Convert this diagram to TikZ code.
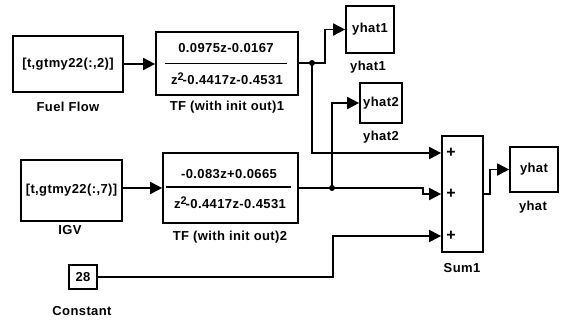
\documentclass[tikz,border=0pt]{standalone}
\usepackage{fontspec}
\setmainfont{Liberation Sans}[LetterSpace=3]
\usetikzlibrary{arrows.meta,calc}
\begin{document}
\begin{tikzpicture}[x=1pt,y=-1pt,
  blk/.style={draw,line width=1.7pt,inner sep=0pt,font=\fontsize{13}{15}\selectfont\bfseries},
  lbl/.style={inner sep=0pt,font=\fontsize{13}{15}\selectfont\bfseries},
  wire/.style={line width=1.8pt},
  arr/.style={wire,-{Triangle[length=12pt,width=12pt]}},
  jdot/.style={circle,fill,inner sep=0pt,minimum size=6pt}]
\useasboundingbox (0,0) rectangle (567,322);
% sources
\node[blk,minimum width=110pt,minimum height=56pt] (ff) at (68,64) {[t,gtmy22(:,2)]};
\node[lbl] (ffl) at (68,107) {Fuel Flow};
\node[blk,minimum width=101pt,minimum height=61pt] (igv) at (71.5,190.5) {[t,gtmy22(:,7)]};
\node[lbl] (igvl) at (70,230) {IGV};
\node[blk,minimum width=28pt,minimum height=24pt] (c) at (83,277) {28};
\node[lbl] (cl) at (82,311) {Constant};
% transfer functions
\node[blk,minimum width=142pt,minimum height=63pt] (tf1) at (227,63.5) {};
\node[lbl] (tf1n) at (226,48) {0.0975z-0.0167};
\node[lbl] (tf1d) at (227,79) {z\raisebox{4pt}{\fontsize{11}{11}\selectfont 2}\kern-1pt-0.4417z-0.4531};
\draw[line width=1.4pt] ([xshift=10pt]tf1.west) -- ([xshift=-12pt]tf1.east);
\node[lbl] (tf1l) at (227,107) {TF (with init out)1};
\node[blk,minimum width=135pt,minimum height=70pt] (tf2) at (230.5,188) {};
\node[lbl] (tf2n) at (229,174) {-0.083z+0.0665};
\node[lbl] (tf2d) at (230,203) {z\raisebox{4pt}{\fontsize{11}{11}\selectfont 2}\kern-1pt-0.4417z-0.4531};
\draw[line width=1.4pt] ([xshift=4pt,yshift=1pt]tf2.west) -- ([xshift=-8pt,yshift=1pt]tf2.east);
\node[lbl] (tf2l) at (230,237) {TF (with init out)2};
% sinks
\node[blk,minimum width=48pt,minimum height=47pt] (yh1) at (370,29.5) {yhat1};
\node[lbl] (yh1l) at (368,67) {yhat1};
\node[blk,minimum width=42pt,minimum height=40pt] (yh2) at (381,103) {yhat2};
\node[lbl] (yh2l) at (381,137) {yhat2};
\node[blk,minimum width=41pt,minimum height=116pt] (sum) at (462.5,194) {};
\node[lbl,font=\fontsize{16}{16}\selectfont\bfseries] (p1) at (451,153) {+};
\node[lbl,font=\fontsize{16}{16}\selectfont\bfseries] (p2) at (451,194) {+};
\node[lbl,font=\fontsize{16}{16}\selectfont\bfseries] (p3) at (451,236) {+};
\node[lbl] (suml) at (462,268) {Sum1};
\node[blk,minimum width=48pt,minimum height=45pt] (yh) at (534,169.5) {yhat};
\node[lbl] (yhl) at (533,207) {yhat};
% coordinates
\coordinate (s1) at ([yshift=41pt]sum.west);
\coordinate (s2) at (sum.west);
\coordinate (s3) at ([yshift=-42pt]sum.west);
\coordinate (j1) at (312,63);
\coordinate (j2) at (332,188);
% wires
\draw[arr] (ff.east) -- (ff.east -| tf1.west);
\draw[arr] (igv.east |- tf2.west) -- (tf2.west);
\draw[wire] (tf1.east |- j1) -- (j1);
\draw[arr] (j1) -- ++(13,0) |- (yh1.west);
\draw[arr] (j1) |- (s1);
\draw[wire] (tf2.east |- j2) -- (j2);
\draw[arr] (j2) -- (423,188) |- (s2);
\draw[arr] (j2) |- (yh2.west);
\draw[arr] (c.east) -- (333,277) |- (s3);
\draw[arr] (sum.east) -- (490,194) |- (yh.west);
\node[jdot] (d1) at (j1) {};
\node[jdot] (d2) at (j2) {};
\end{tikzpicture}
\end{document}
